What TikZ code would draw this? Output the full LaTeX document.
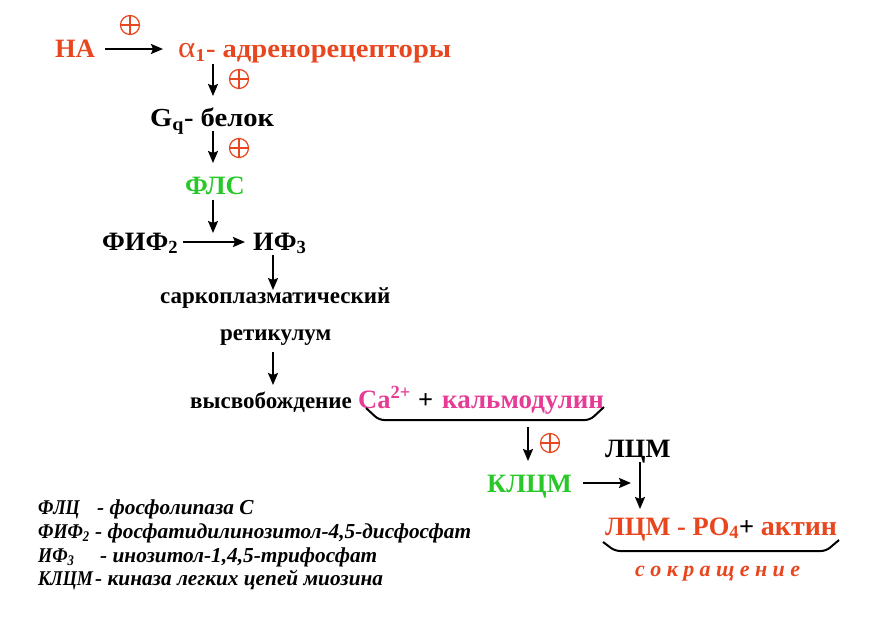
\documentclass[tikz,border=0pt]{standalone}
\usepackage{fontspec}
\setmainfont{Liberation Serif}
\newfontfamily\widefont[FakeStretch=1.1]{Liberation Serif}
\newfontfamily\narrowfont[FakeStretch=0.86]{Liberation Serif}
\usetikzlibrary{arrows.meta}
\definecolor{hot}{RGB}{232,70,30}
\definecolor{grn}{RGB}{40,200,40}
\definecolor{pnk}{RGB}{230,60,150}
\newcommand\lsp{\kern5.4pt}
\tikzset{
  txt/.style={anchor=base west, inner sep=0pt, font=\fontsize{26.5}{30}\selectfont\bfseries},
  mid/.style={anchor=base west, inner sep=0pt, font=\fontsize{23}{27}\selectfont\bfseries},
  leg/.style={anchor=base west, inner sep=0pt, font=\fontsize{21}{24}\narrowfont\bfseries\itshape},
  legt/.style={anchor=base west, inner sep=0pt, font=\fontsize{21.3}{24}\selectfont\bfseries\itshape},
  arr/.style={line width=1.9pt, -{Stealth[length=12pt,width=10pt,inset=2pt]}},
  brace/.style={line width=2pt, rounded corners=5pt},
  oplus/.style={circle, draw=hot, line width=1.2pt, minimum size=19pt, inner sep=0pt,
    path picture={\draw[hot, line width=1.2pt]
      (path picture bounding box.north) -- (path picture bounding box.south)
      (path picture bounding box.west) -- (path picture bounding box.east);}}
}
\begin{document}
\begin{tikzpicture}[x=1pt,y=-1pt]
\useasboundingbox[fill=white] (0,0) rectangle (877,620);
% texts
\node[txt, text=hot] (na) at (55,58) {НА};
\node[txt, text=hot, font=\fontsize{26}{30}\widefont\bfseries] (alpha) at (178,58) {{\mdseries\fontsize{30}{30}\selectfont α}\textsubscript{1}- адренорецепторы};
\node[txt, font=\fontsize{26}{30}\widefont\bfseries] (gq) at (150,127) {G\textsubscript{q}- белок};
\node[txt, text=grn] (fls) at (185,195) {ФЛС};
\node[txt] (fif) at (102,250) {ФИФ\textsubscript{2}};
\node[txt] (if3) at (253,250) {ИФ\textsubscript{3}};
\node[mid] (sark) at (160,303) {саркоплазматический};
\node[mid] (ret) at (220,340) {ретикулум};
\node[mid] (vys) at (190,408) {высвобождение};
\node[txt, text=pnk] (ca) at (358,408) {Ca\textsuperscript{2+}};
\node[txt] (pl1) at (418,408) {+};
\node[txt, text=pnk, font=\fontsize{27}{30}\selectfont\bfseries] (kalm) at (442,408) {кальмодулин};
\node[txt] (lcm) at (605,457) {ЛЦМ};
\node[txt, text=grn] (klcm) at (487,492) {КЛЦМ};
\node[txt] (lcmpo) at (605,535) {\textcolor{hot}{ЛЦМ - PO\textsubscript{4}}+ \textcolor{hot}{\fontsize{28}{30}\selectfont актин}};
\node[txt, text=hot, font=\fontsize{22}{26}\selectfont\bfseries\itshape] (sokr) at (635,576) {с\lsp о\lsp к\lsp р\lsp а\lsp щ\lsp е\lsp н\lsp и\lsp е};
% legend
\node[leg] (l1) at (38,514) {ФЛЦ};
\node[legt] (l1b) at (97,514) {- фосфолипаза С};
\node[leg] (l2) at (38,538) {ФИФ\textsubscript{2}};
\node[legt] (l2b) at (95,538) {- фосфатидилинозитол-4,5-дисфосфат};
\node[leg] (l3) at (38,562) {ИФ\textsubscript{3}};
\node[legt] (l3b) at (100,562) {- инозитол-1,4,5-трифосфат};
\node[leg] (l4) at (38,585) {КЛЦМ};
\node[legt] (l4b) at (95,585) {- киназа легких цепей миозина};
% plus signs
\node[oplus] (p1) at (130,25) {};
\node[oplus] (p2) at (239,79) {};
\node[oplus] (p3) at (239,148) {};
\node[oplus] (p4) at (550,443) {};
% coordinates
\coordinate (a1s) at (105,49); \coordinate (a1e) at (163,49);
\coordinate (a2s) at (213,64); \coordinate (a2e) at (213,96);
\coordinate (a3s) at (213,131); \coordinate (a3e) at (213,163);
\coordinate (a4s) at (213,200); \coordinate (a4e) at (213,233);
\coordinate (a5s) at (183,242); \coordinate (a5e) at (245,242);
\coordinate (a6s) at (273,255); \coordinate (a6e) at (273,290);
\coordinate (a7s) at (273,352); \coordinate (a7e) at (273,385);
\coordinate (a8s) at (528,427); \coordinate (a8e) at (528,461);
\coordinate (a9s) at (583,483); \coordinate (a9e) at (631,483);
\coordinate (a10s) at (640,462); \coordinate (a10e) at (640,509);
% arrows
\draw[arr] (a1s) -- (a1e);
\draw[arr] (a2s) -- (a2e);
\draw[arr] (a3s) -- (a3e);
\draw[arr] (a4s) -- (a4e);
\draw[arr] (a5s) -- (a5e);
\draw[arr] (a6s) -- (a6e);
\draw[arr] (a7s) -- (a7e);
\draw[arr] (a8s) -- (a8e);
\draw[arr] (a9s) -- (a9e);
\draw[arr] (a10s) -- (a10e);
% braces
\coordinate (b1a) at (366,408); \coordinate (b1b) at (379,420); \coordinate (b1c) at (590,420); \coordinate (b1d) at (604,407);
\draw[brace] (b1a) -- (b1b) -- (b1c) -- (b1d);
\coordinate (b2a) at (603,542); \coordinate (b2b) at (615,551); \coordinate (b2c) at (826,551); \coordinate (b2d) at (839,540);
\draw[brace] (b2a) -- (b2b) -- (b2c) -- (b2d);
\end{tikzpicture}
\end{document}
